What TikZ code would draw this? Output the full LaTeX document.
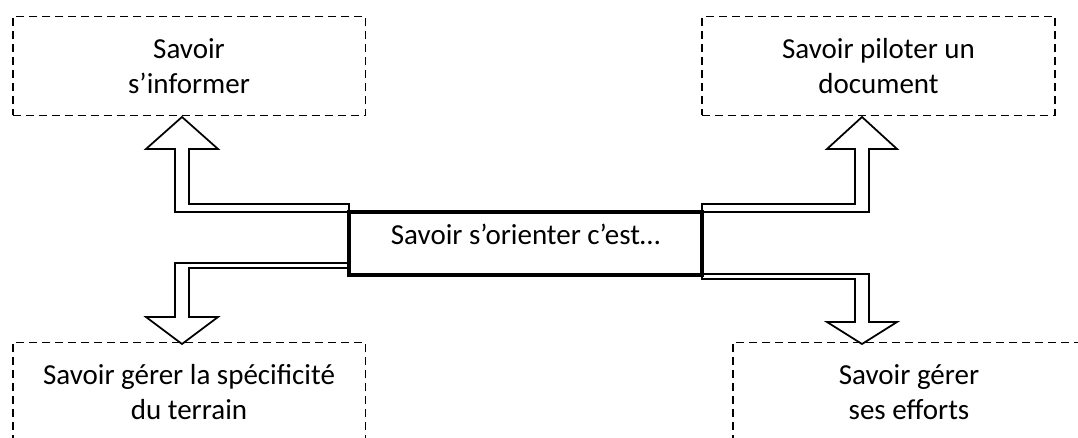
\documentclass[tikz,border=0pt]{standalone}
\usepackage{fontspec}
\setmainfont{Carlito}
\usetikzlibrary{calc}
\tikzset{
    goal/.style={rectangle, draw, line width=1.1pt, dash pattern=on 4.6pt off 2.8pt, minimum width=7.06cm, minimum height=1.98cm, text centered, align=center, outer sep=0pt, font=\fontsize{16.5}{20}\selectfont},
    core/.style={rectangle, draw, line width=2.3pt, minimum width=7.06cm, minimum height=1.26cm, text centered, outer sep=0pt, text height=0.40cm, text depth=0.34cm, font=\fontsize{16.5}{20}\selectfont},
    hollow/.style={draw, line width=1pt, line join=miter}
}

\begin{document}
\begin{tikzpicture}[x=0.02cm, y=-0.02cm]
    \useasboundingbox (0,0) rectangle (1078,438);

    % Central node
    \node[core] (orient) at (525.5,243.5) {Savoir s’orienter c’est…};

    % Goals
    \node[goal] (inform) at (189,66) {Savoir\\s’informer};
    \node[goal] (pilot) at (878.5,66) {Savoir piloter un\\document};
    \node[goal] (terrain) at (189,392) {Savoir gérer la spécificité\\du terrain};
    \node[goal] (efforts) at (909,392) {Savoir gérer\\ses efforts};

    % Arrow tips
    \coordinate (tipI) at ($(inform.south)+(-7,1.5)$);
    \coordinate (tipP) at ($(pilot.south)+(-16.5,1.5)$);
    \coordinate (tipT) at ($(terrain.north)+(-7,1.5)$);
    \coordinate (tipE) at ($(efforts.north)+(-47,1.5)$);

    % Block arrows
    \draw[hollow] ($(orient.north west)+(0,-8)$) -| ($(tipI)+(7,32)$) -- ($(tipI)+(36,32)$) -- (tipI)
        -- ($(tipI)+(-36,32)$) -- ($(tipI)+(-7,32)$) |- (orient.north west) -- cycle;
    \draw[hollow] ($(orient.north east)+(0,-8)$) -| ($(tipP)+(-7,32)$) -- ($(tipP)+(-35,32)$) -- (tipP)
        -- ($(tipP)+(35,32)$) -- ($(tipP)+(7,32)$) |- (orient.north east) -- cycle;
    \draw[hollow] ($(orient.south west)+(0,-12)$) -| ($(tipT)+(-7,-27)$) -- ($(tipT)+(-36,-27)$) -- (tipT)
        -- ($(tipT)+(36,-27)$) -- ($(tipT)+(7,-27)$) |- ($(orient.south west)+(0,-7)$) -- cycle;
    \draw[hollow] ($(orient.south east)+(0,-1)$) -| ($(tipE)+(7,-22)$) -- ($(tipE)+(35,-22)$) -- (tipE)
        -- ($(tipE)+(-35,-22)$) -- ($(tipE)+(-7,-22)$) |- ($(orient.south east)+(0,4)$) -- cycle;
\end{tikzpicture}
\end{document}
